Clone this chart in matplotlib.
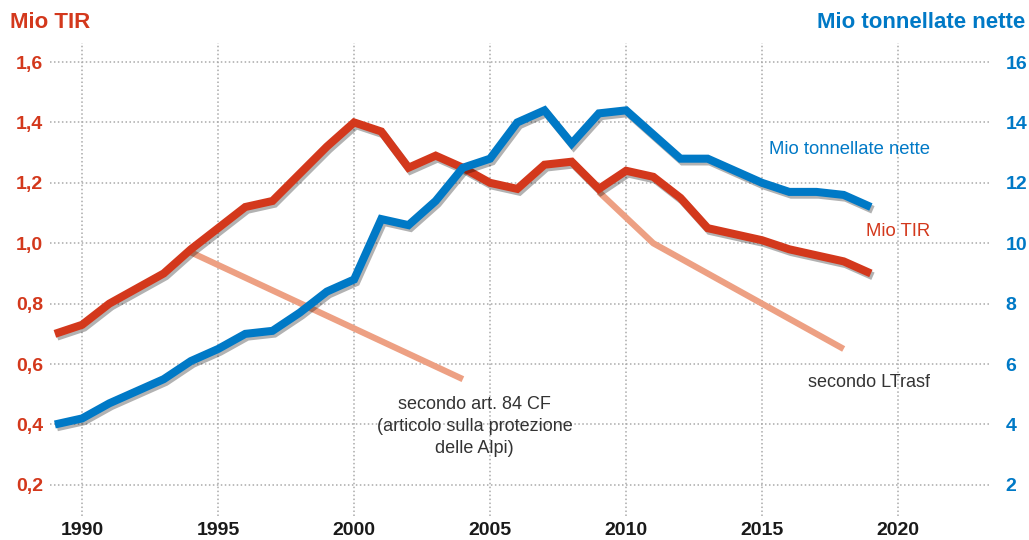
import matplotlib.pyplot as plt
import matplotlib.patheffects as pe

plt.rcParams['font.family'] = ['Liberation Sans', 'DejaVu Sans']

# data
years = list(range(1989, 2020))
tir = [0.70, 0.73, 0.80, 0.85, 0.90, 0.98, 1.05, 1.12, 1.14, 1.23, 1.32, 1.40,
       1.37, 1.25, 1.29, 1.25, 1.20, 1.18, 1.26, 1.27, 1.18, 1.24, 1.22, 1.15,
       1.05, 1.03, 1.01, 0.98, 0.96, 0.94, 0.90]
tonnes = [4.0, 4.2, 4.7, 5.1, 5.5, 6.1, 6.5, 7.0, 7.1, 7.7, 8.4, 8.8,
          10.8, 10.6, 11.4, 12.5, 12.8, 14.0, 14.4, 13.3, 14.3, 14.4, 13.6, 12.8,
          12.8, 12.4, 12.0, 11.7, 11.7, 11.6, 11.2]
cf_years = [1994, 2004]
cf_target = [0.97, 0.55]
ltrasf_years = [2009, 2011, 2018]
ltrasf_target = [1.17, 1.00, 0.65]

left_ticks = [0.2, 0.4, 0.6, 0.8, 1.0, 1.2, 1.4, 1.6]
right_ticks = [2, 4, 6, 8, 10, 12, 14, 16]
x_ticks = [1990, 1995, 2000, 2005, 2010, 2015, 2020]

RED = '#d3381c'
BLUE = '#0079c6'
ORANGE = '#eda083'

fig = plt.figure(figsize=(10.29, 5.4), dpi=100)
ax = fig.add_axes([50 / 1029, 1 - 516 / 540, 940 / 1029, 473 / 540])
ax2 = ax.twinx()

ax.set_xlim(1988.82, 2023.38)
ax.set_ylim(0.097, 1.663)
ax2.set_ylim(0.97, 16.63)

for a in (ax, ax2):
    for s in a.spines.values():
        s.set_visible(False)

ax.grid(True, color='#aaaaaa', linestyle=(0, (1, 1.6)), linewidth=1.1)
ax.set_axisbelow(True)

shadow = [pe.SimpleLineShadow(offset=(1.5, -2), shadow_color='black', alpha=0.3),
          pe.Normal()]

ax.plot(cf_years, cf_target, color=ORANGE, lw=4.5, solid_capstyle='butt', zorder=2)
ax.plot(ltrasf_years, ltrasf_target, color=ORANGE, lw=4.5, solid_capstyle='butt', zorder=2)
ax.plot(years, tir, color=RED, lw=5.8, solid_joinstyle='miter',
        solid_capstyle='butt', path_effects=shadow, zorder=3)
ax2.plot(years, tonnes, color=BLUE, lw=5.8, solid_joinstyle='miter',
         solid_capstyle='butt', path_effects=shadow, zorder=3)

ax.set_xticks(x_ticks)
ax.set_xticklabels([str(x) for x in x_ticks], fontsize=14, fontweight='bold', color='#1a1a1a')
ax.set_yticks(left_ticks)
ax.set_yticklabels([f'{v:.1f}'.replace('.', ',') for v in left_ticks],
                   fontsize=14, fontweight='bold', color=RED)
ax2.set_yticks(right_ticks)
ax2.set_yticklabels([str(v) for v in right_ticks], fontsize=14, fontweight='bold', color=BLUE)
ax.tick_params(axis='x', length=0, pad=4.5)
ax.tick_params(axis='y', length=0, pad=5)
ax2.tick_params(axis='y', length=0, pad=11)

fig.text(10 / 1029, 1 - 22 / 540, 'Mio TIR', color=RED, fontsize=16,
         fontweight='bold', ha='left', va='center')
fig.text(1025 / 1029, 1 - 22 / 540, 'Mio tonnellate nette', color=BLUE, fontsize=16,
         fontweight='bold', ha='right', va='center')

ax.text(2021.18, 1.31, 'Mio tonnellate nette', color=BLUE, fontsize=13.3,
        ha='right', va='center')
ax.text(2021.18, 1.04, 'Mio TIR', color=RED, fontsize=13.3, ha='right', va='center')
ax.text(2021.18, 0.54, 'secondo LTrasf', color='#333333', fontsize=13,
        ha='right', va='center')
ax.text(2004.43, 0.495, 'secondo art. 84 CF\n(articolo sulla protezione\ndelle Alpi)',
        color='#333333', fontsize=13, ha='center', va='top',
        multialignment='center', linespacing=1.4)

fig.savefig('out.png', dpi=100)
